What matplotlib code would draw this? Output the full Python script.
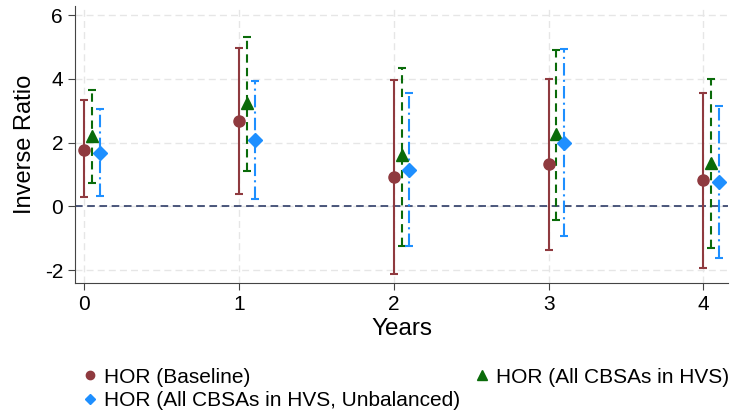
import numpy as np
import matplotlib
matplotlib.use('Agg')
import matplotlib.pyplot as plt
from matplotlib.lines import Line2D

plt.rcParams['font.family'] = ['Liberation Sans', 'DejaVu Sans']
plt.rcParams['axes.unicode_minus'] = False

years = np.array([0, 1, 2, 3, 4])

base_est = [1.78, 2.68, 0.92, 1.32, 0.82]
base_lo = [0.30, 0.38, -2.13, -1.37, -1.93]
base_hi = [3.32, 4.98, 3.96, 4.00, 3.54]

all_est = [2.20, 3.23, 1.61, 2.27, 1.37]
all_lo = [0.73, 1.11, -1.24, -0.43, -1.32]
all_hi = [3.65, 5.32, 4.35, 4.90, 4.00]

unb_est = [1.67, 2.07, 1.15, 2.00, 0.75]
unb_lo = [0.32, 0.22, -1.26, -0.92, -1.62]
unb_hi = [3.05, 3.93, 3.56, 4.94, 3.15]

labels = ['HOR (Baseline)', 'HOR (All CBSAs in HVS)',
          'HOR (All CBSAs in HVS, Unbalanced)']

red = '#8f3a3f'
green = '#0a6b0a'
blue = '#1e8fff'


def draw_series(ax, x, est, lo, hi, color, ls, marker, ms):
    est = np.array(est)
    err = np.vstack((est - np.array(lo), np.array(hi) - est))
    eb = ax.errorbar(x, est, yerr=err, fmt='none', ecolor=color, elinewidth=1.5,
                     capsize=3, capthick=1.5, zorder=3)
    eb[2][0].set_linestyle(ls)
    ax.plot(x, est, linestyle='none', marker=marker, color=color, markersize=ms, zorder=4)


def main():
    fig = plt.figure(figsize=(7.34, 4.15), dpi=100)
    ax = fig.add_axes([0.102, 0.317, 0.890, 0.669])

    ax.axhline(0, color='#1c2b5a', linestyle=(0, (5, 3)), linewidth=1.1, zorder=2)

    draw_series(ax, years, base_est, base_lo, base_hi, red, '-', 'o', 8)
    draw_series(ax, years + 0.05, all_est, all_lo, all_hi, green, (0, (4, 2.5)), '^', 8.5)
    draw_series(ax, years + 0.1, unb_est, unb_lo, unb_hi, blue, (0, (6, 2, 1, 2)), 'D', 7)

    ax.set_xlim(-0.062, 4.16)
    ax.set_ylim(-2.42, 6.29)
    ax.set_xticks(years)
    ax.set_yticks([-2, 0, 2, 4, 6])
    ax.grid(True, color='#e6e6e6', linestyle=(0, (5, 3)), linewidth=1)
    ax.set_axisbelow(True)
    for s in ['top', 'right']:
        ax.spines[s].set_visible(False)
    for s in ['left', 'bottom']:
        ax.spines[s].set_color('#444444')
    ax.tick_params(labelsize=15, length=5, color='#444444')
    ax.set_xlabel('Years', fontsize=17.5, labelpad=3)
    ax.set_ylabel('Inverse Ratio', fontsize=17, labelpad=6)

    handles = [
        Line2D([], [], linestyle='none', marker='o', color=red, markersize=6),
        Line2D([], [], linestyle='none', marker='D', color=blue, markersize=5.5),
        Line2D([], [], linestyle='none', marker='^', color=green, markersize=6.5),
    ]
    fig.legend(handles, [labels[0], labels[2], labels[1]], ncol=2,
               loc='upper left', bbox_to_anchor=(0.100, 0.139),
               frameon=False, fontsize=15, handlelength=0.6, handletextpad=0.35,
               columnspacing=0.77, labelspacing=0.2, borderpad=0)

    fig.savefig('out.png', dpi=100)


if __name__ == '__main__':
    main()
